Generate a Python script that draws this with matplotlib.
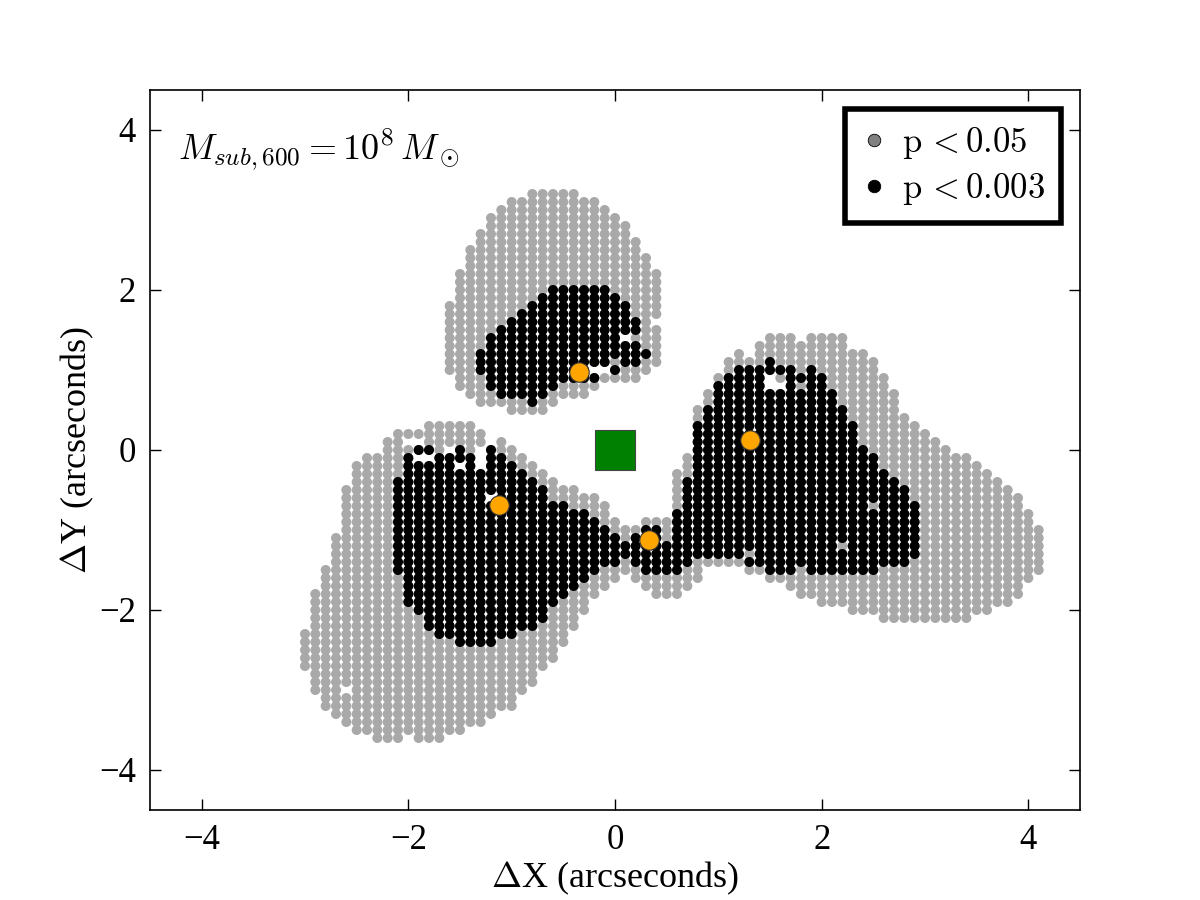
import numpy as np
import matplotlib
matplotlib.use("Agg")
import matplotlib.pyplot as plt
from matplotlib.lines import Line2D

nan = np.nan

# ---------------- lower structure (left lobe + neck + right lobe), one entry per grid column
low_x = [-3.0, -2.9, -2.8, -2.7, -2.6, -2.5, -2.4, -2.3, -2.2, -2.1,
         -2.0, -1.9, -1.8, -1.7, -1.6, -1.5, -1.4, -1.3, -1.2, -1.1,
         -1.0, -0.9, -0.8, -0.7, -0.6, -0.5, -0.4, -0.3, -0.2, -0.1,
         0.0, 0.1, 0.2, 0.3, 0.4, 0.5, 0.6, 0.7, 0.8, 0.9,
         1.0, 1.1, 1.2, 1.3, 1.4, 1.5, 1.6, 1.7, 1.8, 1.9,
         2.0, 2.1, 2.2, 2.3, 2.4, 2.5, 2.6, 2.7, 2.8, 2.9,
         3.0, 3.1, 3.2, 3.3, 3.4, 3.5, 3.6, 3.7, 3.8, 3.9,
         4.0, 4.1]
low_gray_top = [-2.3, -1.8, -1.5, -1.1, -0.5, -0.2, -0.1, -0.1, 0.1, 0.2,
                0.2, 0.2, 0.3, 0.3, 0.3, 0.3, 0.3, 0.2, 0.0, 0.1,
                0.0, -0.1, -0.2, -0.3, -0.4, -0.5, -0.5, -0.6, -0.6, -0.7,
                -0.9, -1.0, -1.0, -0.9, -0.9, -0.9, -0.3, -0.1, 0.5, 0.7,
                0.9, 1.1, 1.2, 1.1, 1.3, 1.4, 1.4, 1.4, 1.3, 1.4,
                1.4, 1.4, 1.4, 1.2, 1.2, 1.1, 0.9, 0.7, 0.4, 0.3,
                0.2, 0.1, 0.0, -0.1, -0.1, -0.2, -0.3, -0.4, -0.5, -0.6,
                -0.8, -1.0]
low_gray_bot = [-2.7, -3.0, -3.2, -3.3, -3.4, -3.5, -3.5, -3.6, -3.6, -3.6,
                -3.5, -3.6, -3.6, -3.6, -3.5, -3.5, -3.4, -3.4, -3.3, -3.2,
                -3.2, -3.0, -2.9, -2.7, -2.6, -2.4, -2.2, -2.0, -1.8, -1.7,
                -1.6, -1.5, -1.6, -1.7, -1.8, -1.8, -1.8, -1.7, -1.6, -1.4,
                -1.4, -1.4, -1.4, -1.5, -1.5, -1.6, -1.6, -1.7, -1.8, -1.8,
                -1.9, -1.9, -1.9, -2.0, -2.0, -2.0, -2.1, -2.1, -2.1, -2.1,
                -2.1, -2.1, -2.1, -2.1, -2.1, -2.0, -2.0, -1.9, -1.9, -1.8,
                -1.6, -1.5]
low_black_top = [nan, nan, nan, nan, nan, nan, nan, nan, nan, -0.4,
                 -0.1, 0.0, 0.0, -0.1, -0.1, 0.0, -0.1, -0.3, 0.0, -0.1,
                 -0.2, -0.3, -0.4, -0.5, -0.7, -0.7, -0.8, -0.8, -0.9, -1.0,
                 -1.1, -1.2, -1.1, -1.0, -1.0, -1.2, -0.8, -0.4, 0.3, 0.5,
                 0.8, 0.9, 1.0, 1.0, 1.0, 1.1, 1.0, 1.0, 0.9, 1.0,
                 0.9, 0.7, 0.5, 0.3, 0.0, -0.1, -0.3, -0.4, -0.5, -0.7,
                 nan, nan, nan, nan, nan, nan, nan, nan, nan, nan,
                 nan, nan]
low_black_bot = [nan, nan, nan, nan, nan, nan, nan, nan, nan, -1.5,
                 -1.9, -2.0, -2.2, -2.3, -2.3, -2.4, -2.4, -2.4, -2.4, -2.3,
                 -2.3, -2.2, -2.2, -2.1, -1.9, -1.8, -1.7, -1.6, -1.5, -1.4,
                 -1.4, -1.3, -1.4, -1.5, -1.5, -1.5, -1.5, -1.4, -1.3, -1.3,
                 -1.3, -1.3, -1.3, -1.4, -1.4, -1.5, -1.5, -1.5, -1.4, -1.5,
                 -1.5, -1.5, -1.5, -1.5, -1.5, -1.5, -1.4, -1.4, -1.4, -1.3,
                 nan, nan, nan, nan, nan, nan, nan, nan, nan, nan,
                 nan, nan]

# ---------------- upper lobe
top_x = [-1.6, -1.5, -1.4, -1.3, -1.2, -1.1, -1.0, -0.9, -0.8, -0.7,
         -0.6, -0.5, -0.4, -0.3, -0.2, -0.1, 0.0, 0.1, 0.2, 0.3, 0.4]
top_gray_top = [1.8, 2.2, 2.5, 2.7, 2.9, 3.0, 3.1, 3.1, 3.2, 3.2,
                3.2, 3.2, 3.2, 3.1, 3.1, 3.0, 2.9, 2.8, 2.6, 2.4, 2.2]
top_gray_bot = [1.0, 0.8, 0.7, 0.6, 0.6, 0.6, 0.5, 0.5, 0.5, 0.5,
                0.6, 0.7, 0.7, 0.7, 0.8, 0.9, 0.9, 0.9, 0.9, 1.0, 1.1]
top_black_top = [nan, nan, nan, 1.2, 1.4, 1.5, 1.6, 1.7, 1.8, 1.9,
                 2.0, 2.0, 2.0, 2.0, 2.0, 2.0, 1.9, 1.8, 1.6, 1.2, nan]
top_black_bot = [nan, nan, nan, 1.0, 0.8, 0.7, 0.7, 0.7, 0.6, 0.7,
                 0.8, 0.9, 0.9, 0.9, 0.9, 1.0, 1.0, 1.1, 1.1, 1.2, nan]

# ---------------- empty grid positions and p<0.05-only points inside the dark regions
hole_x = [-2.6, -2.0, -1.9, -1.9, -1.8, -1.6, -1.5, -1.3, -1.3, -1.3, -1.2, -0.2, -0.1, 0.4, 0.1, 1.5, 1.5, 1.6]
hole_y = [-3.0, 0.1, 0.1, -0.1, -0.1, 0.0, -0.2, 0.0, -0.1, -0.2, -0.6, 1.0, 1.0, 1.6, 1.4, 0.9, 0.8, 0.8]
lightonly_x = [1.6, 1.8, 2.5, 2.2, 1.3, 0.2, 0.0]
lightonly_y = [0.9, 0.8, -0.7, -1.2, -1.3, 1.4, 1.1]

# ---------------- image positions and lens centre
img_x = [-1.12, -0.35, 0.33, 1.31]
img_y = [-0.69, 0.98, -1.13, 0.12]
lens_x = [0.0]
lens_y = [0.0]

legend_labels = [r'$\mathrm{p}\,{<}\mathrm{0.05}$', r'$\mathrm{p}\,{<}\mathrm{0.003}$']


def expand(xs, tops, bots):
    px, py = [], []
    for x, t, b in zip(xs, tops, bots):
        if np.isnan(t):
            continue
        n = int(round((t - b) / 0.1)) + 1
        for k in range(n):
            px.append(x)
            py.append(round(b + 0.1 * k, 1))
    return px, py


def key(x, y):
    return (int(round(x * 10)), int(round(y * 10)))


holes = {key(x, y) for x, y in zip(hole_x, hole_y)}
light_only = {key(x, y) for x, y in zip(lightonly_x, lightonly_y)}

gx1, gy1 = expand(low_x, low_gray_top, low_gray_bot)
gx2, gy2 = expand(top_x, top_gray_top, top_gray_bot)
bx1, by1 = expand(low_x, low_black_top, low_black_bot)
bx2, by2 = expand(top_x, top_black_top, top_black_bot)

gx, gy = [], []
for x, y in zip(gx1 + gx2, gy1 + gy2):
    if key(x, y) not in holes:
        gx.append(x); gy.append(y)
bx, by = [], []
for x, y in zip(bx1 + bx2, by1 + by2):
    k = key(x, y)
    if k not in holes and k not in light_only:
        bx.append(x); by.append(y)

plt.rcParams['font.family'] = ['Liberation Serif', 'DejaVu Serif']
plt.rcParams['mathtext.fontset'] = 'cm'

fig = plt.figure(figsize=(12, 9), dpi=100)
ax = fig.add_axes([0.125, 0.1, 0.775, 0.8])

ax.scatter(gx, gy, s=52, c='#a9a9a9', edgecolors='none', zorder=2)
ax.scatter(bx, by, s=52, c='black', edgecolors='none', zorder=3)
ax.plot(img_x, img_y, 'o', ms=14, mfc='orange', mec='#333333', mew=0.8, ls='none', zorder=5)
ax.plot(lens_x, lens_y, 's', ms=29, mfc='green', mec='#444444', mew=0.8, ls='none', zorder=5)

ax.set_xlim(-4.5, 4.5)
ax.set_ylim(-4.5, 4.5)
ax.set_xticks([-4, -2, 0, 2, 4])
ax.set_yticks([-4, -2, 0, 2, 4])
ax.tick_params(direction='in', length=8, width=1, top=True, right=True,
               labelsize=25, pad=10)
for sp in ax.spines.values():
    sp.set_linewidth(1.2)

ax.set_xlabel(r'$\Delta$X (arcseconds)', fontsize=26, labelpad=2)
ax.set_ylabel(r'$\Delta$Y (arcseconds)', fontsize=26, labelpad=2)

ax.text(0.03, 0.917, r'$M_{sub,600}=10^8\,M_\odot$', transform=ax.transAxes,
        fontsize=26, va='center', ha='left')

handles = [Line2D([], [], marker='o', ls='none', mfc='gray', mec='black', mew=0.6, ms=9),
           Line2D([], [], marker='o', ls='none', mfc='black', mec='black', mew=0.6, ms=9)]
leg = ax.legend(handles, legend_labels, loc='upper right', fontsize=25,
                numpoints=1, handlelength=0.8, handletextpad=0.4, fancybox=False,
                framealpha=1, edgecolor='black', borderaxespad=0.55,
                borderpad=0.45, labelspacing=0.3)
leg.get_frame().set_linewidth(4)

fig.savefig('out.png', dpi=100)
